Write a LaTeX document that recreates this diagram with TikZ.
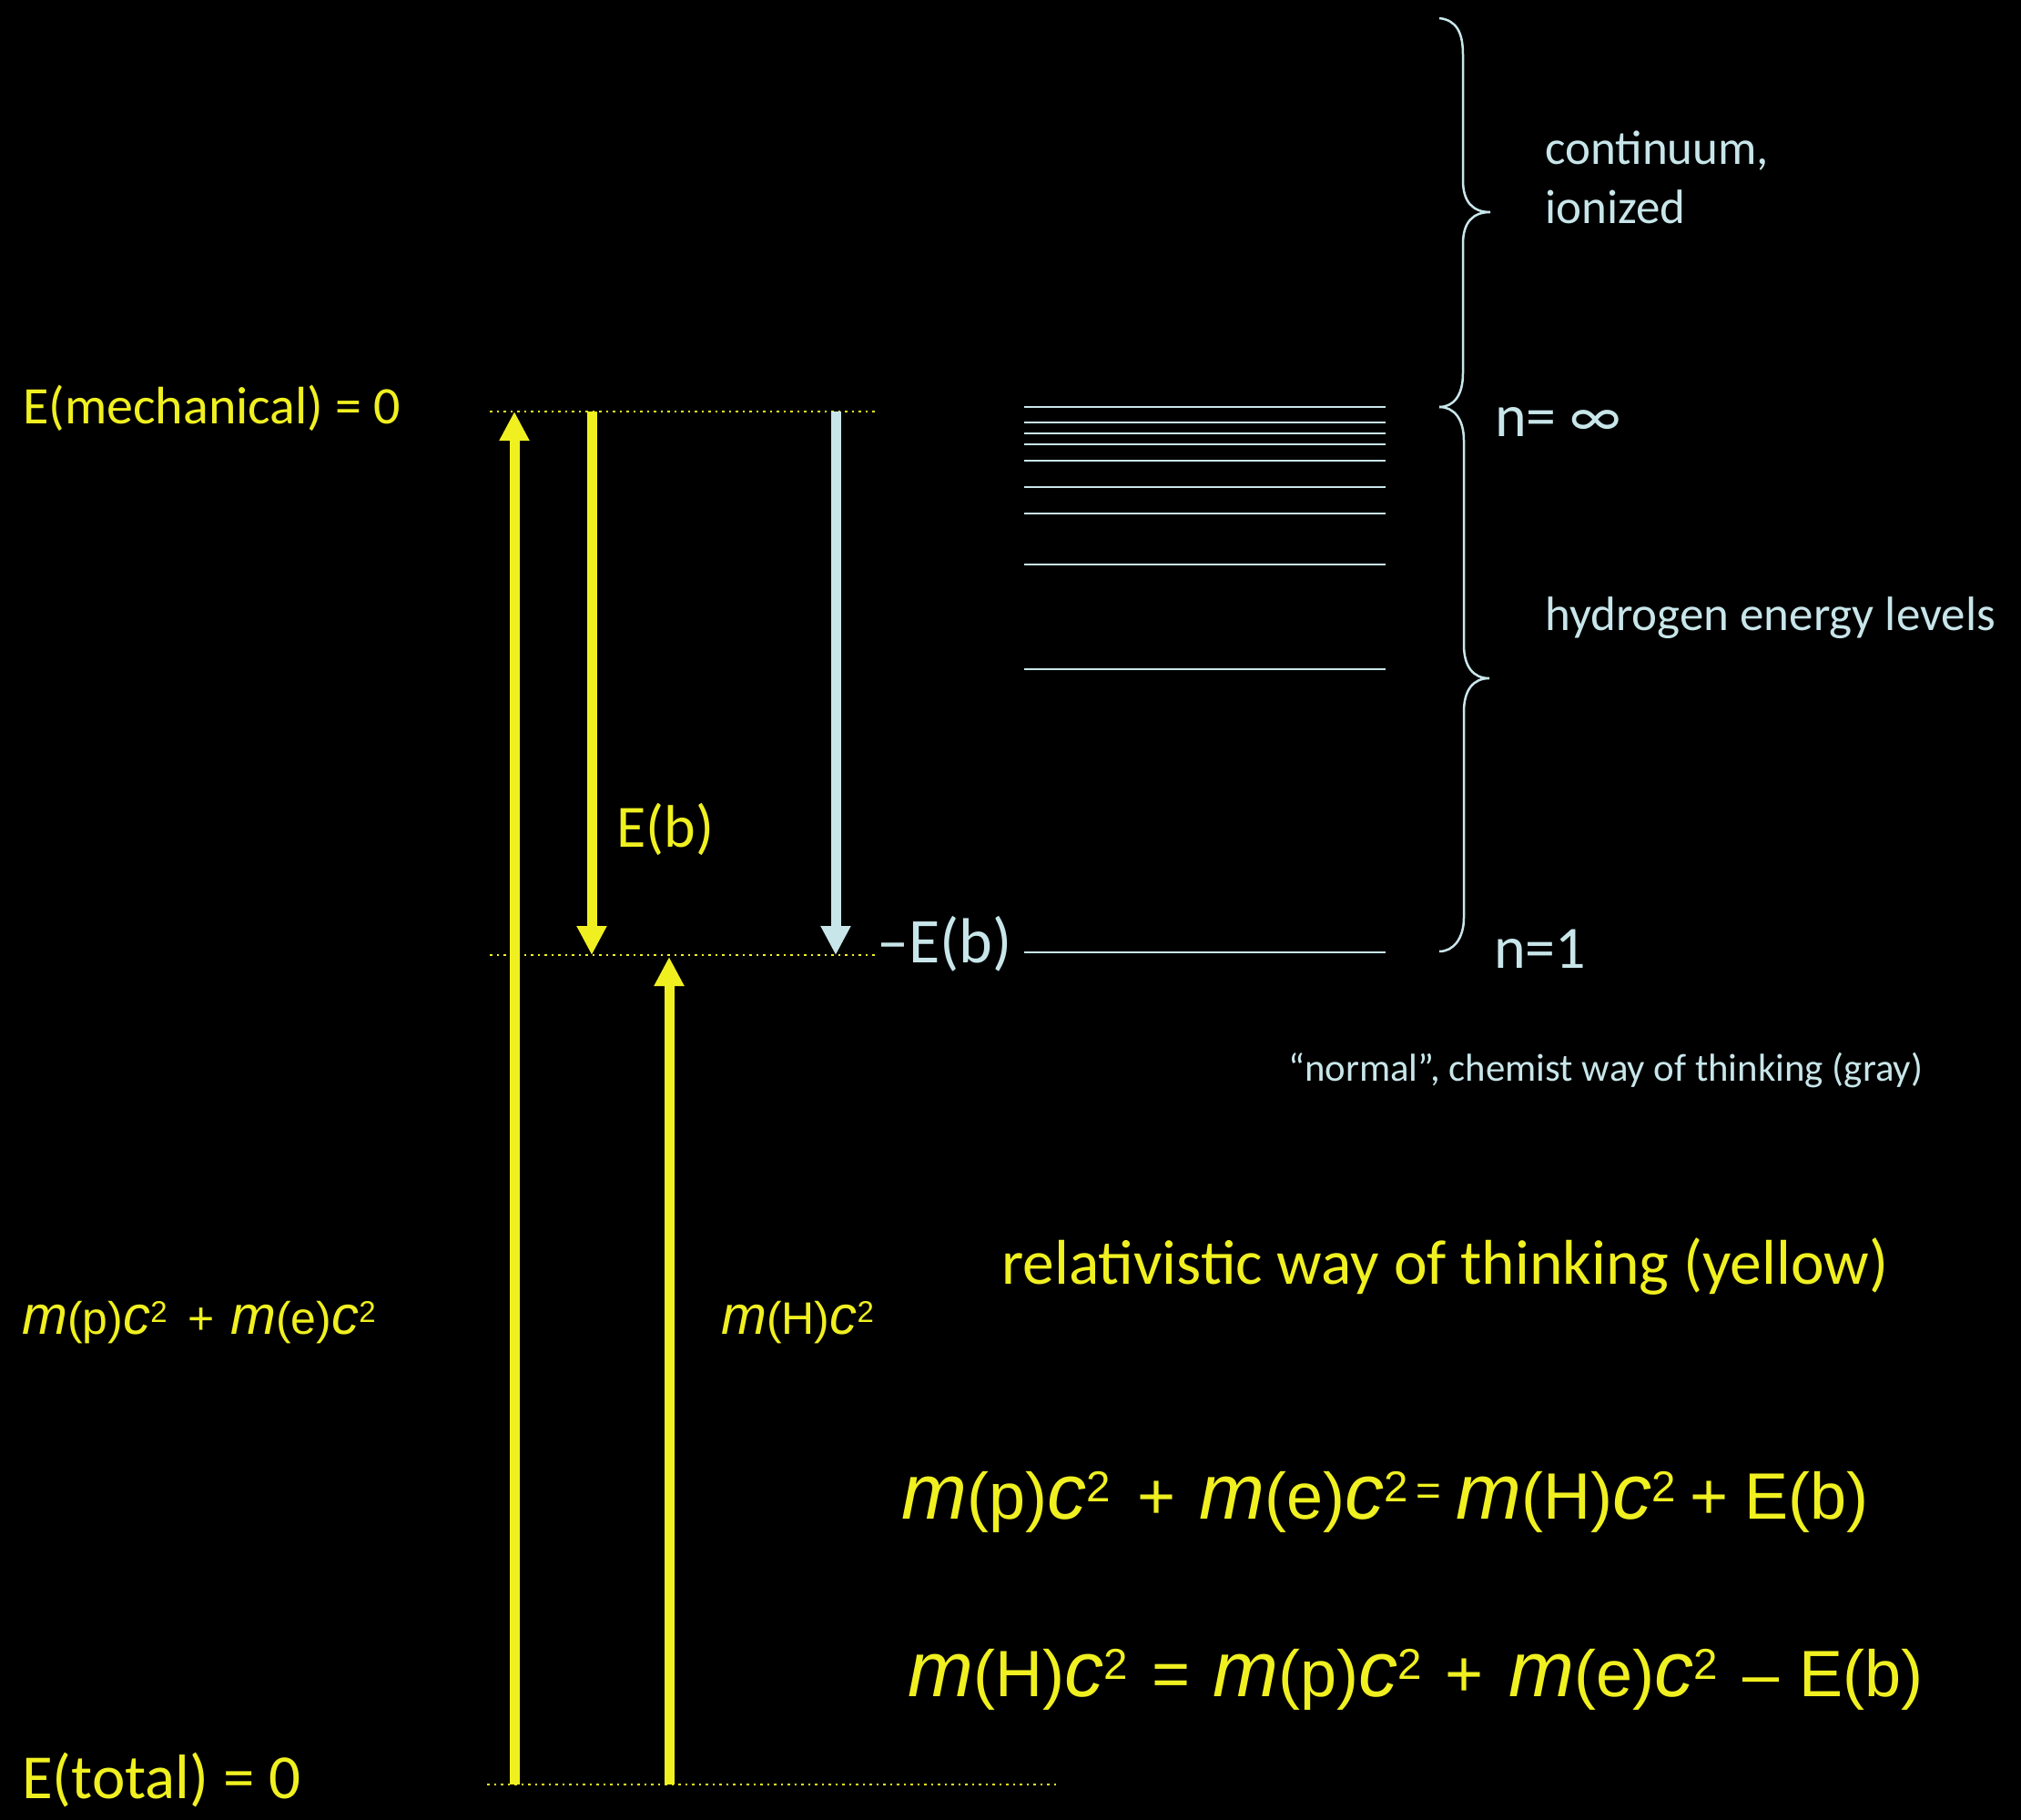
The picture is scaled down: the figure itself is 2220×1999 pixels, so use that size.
\documentclass[tikz,border=0pt]{standalone}
\usepackage{fontspec}
\setmainfont{Carlito}
\newfontfamily\eqfont{Liberation Sans}
\usepackage{graphicx}
\usetikzlibrary{arrows.meta}

\definecolor{ylw}{RGB}{240,240,32}
\definecolor{lblue}{RGB}{200,230,234}

% italic symbol letters are set larger than the upright text around them
\newcommand\ital[1]{\scalebox{1.2}{\itshape #1}}
% raised, reduced exponent 2
\newcommand\sqd{\raisebox{0.26em}{\scalebox{0.66}{2}}}
% small raised equals sign
\newcommand\smeq{\raisebox{0.2em}{\scalebox{0.66}{=}}}
% one piece of a formula in a slot of fixed width
\newcommand\slot[2]{\makebox[#1pt][l]{#2}}

\tikzset{
  lvl/.style={draw=lblue, line width=2.5pt},
  brc/.style={draw=lblue, line width=2.5pt},
  guide/.style={draw=ylw, line width=2.5pt, dash pattern=on 2.5pt off 5pt},
  yarrow/.style={draw=ylw, line width=11pt, -{Triangle[width=31pt,length=32pt]}},
  barrow/.style={draw=lblue, line width=11pt, -{Triangle[width=31pt,length=32pt]}},
  ytext/.style={text=ylw, inner sep=0pt, anchor=base west},
  btext/.style={text=lblue, inner sep=0pt, anchor=base west},
}

\begin{document}
\begin{tikzpicture}[x=1pt, y=-1pt]
\fill[black] (0,0) rectangle (2220,1999);
\useasboundingbox (0,0) rectangle (2220,1999);

% reference energies (dotted guides)
\coordinate (topL) at (538,452);  \coordinate (topR) at (963,452);
\coordinate (midL) at (538,1049); \coordinate (midR) at (963,1049);
\coordinate (botL) at (535,1960); \coordinate (botR) at (1160,1960);
\draw[guide] (topL) -- (topR);
\draw[guide] (midL) -- (midR);
\draw[guide] (botL) -- (botR);

% energy arrows
\coordinate (restS) at (565,1960); \coordinate (restE) at (565,452);
\coordinate (bindS) at (650,452);  \coordinate (bindE) at (650,1049);
\coordinate (chemS) at (918,452);  \coordinate (chemE) at (918,1049);
\coordinate (hydS)  at (735,1960); \coordinate (hydE)  at (735,1051);
\draw[yarrow] (restS) -- (restE);
\draw[yarrow] (bindS) -- (bindE);
\draw[barrow] (chemS) -- (chemE);
\draw[yarrow] (hydS) -- (hydE);

% hydrogen levels
\foreach \yy in {447,464,476,488,506,535,564,620,735,1046}
  \draw[lvl] (1125,\yy) -- (1522,\yy);

% braces: continuum (upper) and bound states (lower)
\draw[brc] (1581,20) .. controls (1600,22) and (1607,36) .. (1607,60)
  -- (1607,198) .. controls (1607,222) and (1618,233) .. (1637,233)
  .. controls (1618,233) and (1607,244) .. (1607,268)
  -- (1607,410) .. controls (1607,434) and (1597,447) .. (1581,447);
\draw[brc] (1581,447) .. controls (1597,447) and (1608,460) .. (1608,484)
  -- (1608,708) .. controls (1608,732) and (1618,745) .. (1636,745)
  .. controls (1618,745) and (1608,758) .. (1608,782)
  -- (1608,1008) .. controls (1608,1030) and (1597,1045) .. (1581,1045);

% labels
\node[ytext, font=\fontsize{58}{62}\selectfont] (emech) at (25,465) {E(mechanical) = 0};
\node[ytext, font=\fontsize{69}{72}\selectfont] (etot) at (24,1975) {E(total) = 0};
\node[ytext, font=\fontsize{66}{70}\selectfont] (eb) at (677,930) {E(b)};
\node[btext, font=\fontsize{70}{72}\selectfont] (meb) at (963,1057) {–E(b)};
\node[btext, font=\fontsize{66}{70}\selectfont] (ninf) at (1642,479) {n= ∞};
\node[btext, font=\fontsize{66}{70}\selectfont] (none) at (1641,1063) {n=1};
\node[btext, font=\fontsize{53}{60}\selectfont] (cont) at (1697,180) {continuum,};
\node[btext, font=\fontsize{53}{60}\selectfont] (ion) at (1697,245) {ionized};
\node[btext, font=\fontsize{53}{60}\selectfont] (hlev) at (1697,692) {hydrogen energy levels};
\node[btext, font=\fontsize{42.8}{48}\selectfont] (chem) at (1415,1187) {“normal”, chemist way of thinking (gray)};
\node[ytext, font=\fontsize{69.5}{72}\selectfont] (rel) at (1100,1410) {relativistic way of thinking (yellow)};

\node[ytext, font=\eqfont\fontsize{50}{54}\selectfont] (mpe) at (24,1465)
  {\slot{182}{\ital{m}(p)\ital{c}\sqd}\slot{47}{+}\ital{m}(e)\ital{c}\sqd};
\node[ytext, font=\eqfont\fontsize{50}{54}\selectfont] (mh) at (792,1465)
  {\ital{m}(H)\ital{c}\sqd};

\node[ytext, font=\eqfont\fontsize{72}{76}\selectfont] (eqa) at (990,1668)
  {\slot{259}{\ital{m}(p)\ital{c}\sqd}\slot{68}{+}\slot{238}{\ital{m}(e)\ital{c}\sqd}%
   \slot{44}{\smeq}\slot{257}{\ital{m}(H)\ital{c}\sqd}\slot{60}{+}E(b)};
\node[ytext, font=\eqfont\fontsize{72}{76}\selectfont] (eqb) at (997,1863)
  {\slot{268}{\ital{m}(H)\ital{c}\sqd}\slot{67}{=}\slot{255}{\ital{m}(p)\ital{c}\sqd}%
   \slot{70}{+}\slot{257}{\ital{m}(e)\ital{c}\sqd}\slot{62}{–}E(b)};
\end{tikzpicture}
\end{document}
